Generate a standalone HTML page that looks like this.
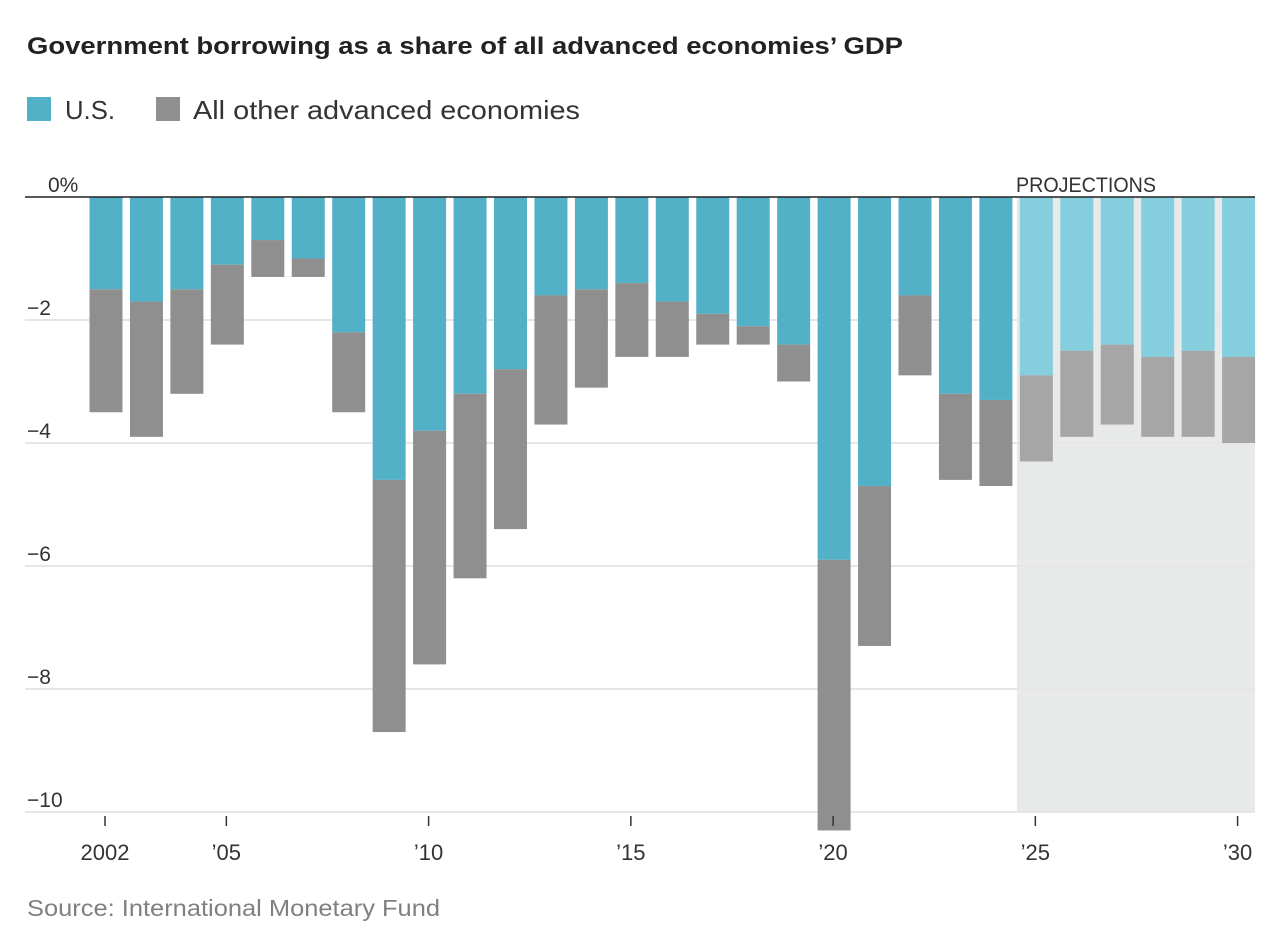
<!DOCTYPE html>
<html><head><meta charset="utf-8"><style>
body{margin:0;background:#fff;width:1282px;height:944px;overflow:hidden;font-family:"Liberation Sans",sans-serif;}
</style></head><body>
<svg width="1282" height="944">
<text x="27" y="54" font-size="24" font-weight="bold" fill="#222" textLength="876" lengthAdjust="spacingAndGlyphs">Government borrowing as a share of all advanced economies’ GDP</text>
<g>
<rect x="27" y="97" width="24" height="24" fill="#52b0c7"/>
<text x="65" y="119" font-size="26" fill="#333" textLength="50" lengthAdjust="spacingAndGlyphs">U.S.</text>
<rect x="156" y="97" width="24" height="24" fill="#8f8f8f"/>
<text x="193" y="119" font-size="26" fill="#333" textLength="387" lengthAdjust="spacingAndGlyphs">All other advanced economies</text>
</g>
<g id="plot"></g>
<text x="27" y="916" font-size="23" fill="#808080" textLength="413" lengthAdjust="spacingAndGlyphs">Source: International Monetary Fund</text>
</svg>
<script>
const years=[2002,2003,2004,2005,2006,2007,2008,2009,2010,2011,2012,2013,2014,2015,2016,2017,2018,2019,2020,2021,2022,2023,2024,2025,2026,2027,2028,2029,2030];
const usValues=[-1.5,-1.7,-1.5,-1.1,-0.7,-1.0,-2.2,-4.6,-3.8,-3.2,-2.8,-1.6,-1.5,-1.4,-1.7,-1.9,-2.1,-2.4,-5.9,-4.7,-1.6,-3.2,-3.3,-2.9,-2.5,-2.4,-2.6,-2.5,-2.6];
const otherValues=[-2.0,-2.2,-1.7,-1.3,-0.6,-0.3,-1.3,-4.1,-3.8,-3.0,-2.6,-2.1,-1.6,-1.2,-0.9,-0.5,-0.3,-0.6,-4.4,-2.6,-1.3,-1.4,-1.4,-1.4,-1.4,-1.3,-1.3,-1.4,-1.4];
const yTicks=[0,-2,-4,-6,-8,-10];
const yTickLabels=["0%","\u22122","\u22124","\u22126","\u22128","\u221210"];
const xTickYears=[2002,2005,2010,2015,2020,2025,2030];
const xTickLabels=["2002","\u201905","\u201910","\u201915","\u201920","\u201925","\u201930"];
const projectionStart=2025;
const NS="http://www.w3.org/2000/svg";
const g=document.getElementById('plot');
const y0=197,pxPer=61.5,x0=106,step=40.45,bw=33,left=25,right=1255;
const yS=v=>y0-v*pxPer;
const xS=yr=>x0+(yr-2002)*step;
function mk(t,a){const e=document.createElementNS(NS,t);for(const k in a)e.setAttribute(k,a[k]);g.appendChild(e);return e;}
const shX=xS(projectionStart)-bw/2-3;
let sh=mk('rect',{x:shX,y:y0,width:right-shX,height:yS(-10)-y0,fill:'#e8e9e9'});


yTicks.forEach((v,i)=>{
 if(v!==0){let l=mk('line',{x1:left,x2:right,y1:yS(v),y2:yS(v),stroke:'#e6e6e6','stroke-width':2});
 
 }
 let t=mk('text',{x:v===0?48:27,y:yS(v)-5,'font-size':21,fill:'#333'});t.textContent=yTickLabels[i];
 
 
});
years.forEach((yr,i)=>{
 const proj=yr>=projectionStart;const x=xS(yr)-bw/2;
 const u=usValues[i],o=otherValues[i];
 let r1=mk('rect',{x:x,y:y0,width:bw,height:-u*pxPer,fill:proj?'#84cedd':'#52b0c7'});
 
 
 let r2=mk('rect',{x:x,y:yS(u),width:bw,height:-o*pxPer,fill:proj?'#a6a6a6':'#8f8f8f'});
 
 
});
let z=mk('line',{x1:left,x2:right,y1:y0,y2:y0,stroke:'#222','stroke-width':1.5});


let pt=mk('text',{x:1016,y:192,'font-size':21,fill:'#333',textLength:140,lengthAdjust:'spacingAndGlyphs'});pt.textContent='PROJECTIONS';


xTickYears.forEach((yr,i)=>{
 let tk=mk('line',{x1:xS(yr)-1,x2:xS(yr)-1,y1:816,y2:826,stroke:'#333','stroke-width':1.5});
 
 
 let t=mk('text',{x:xS(yr)-1,y:860,'font-size':22,fill:'#333','text-anchor':'middle'});t.textContent=xTickLabels[i];
 
 
});
</script>
</body></html>
